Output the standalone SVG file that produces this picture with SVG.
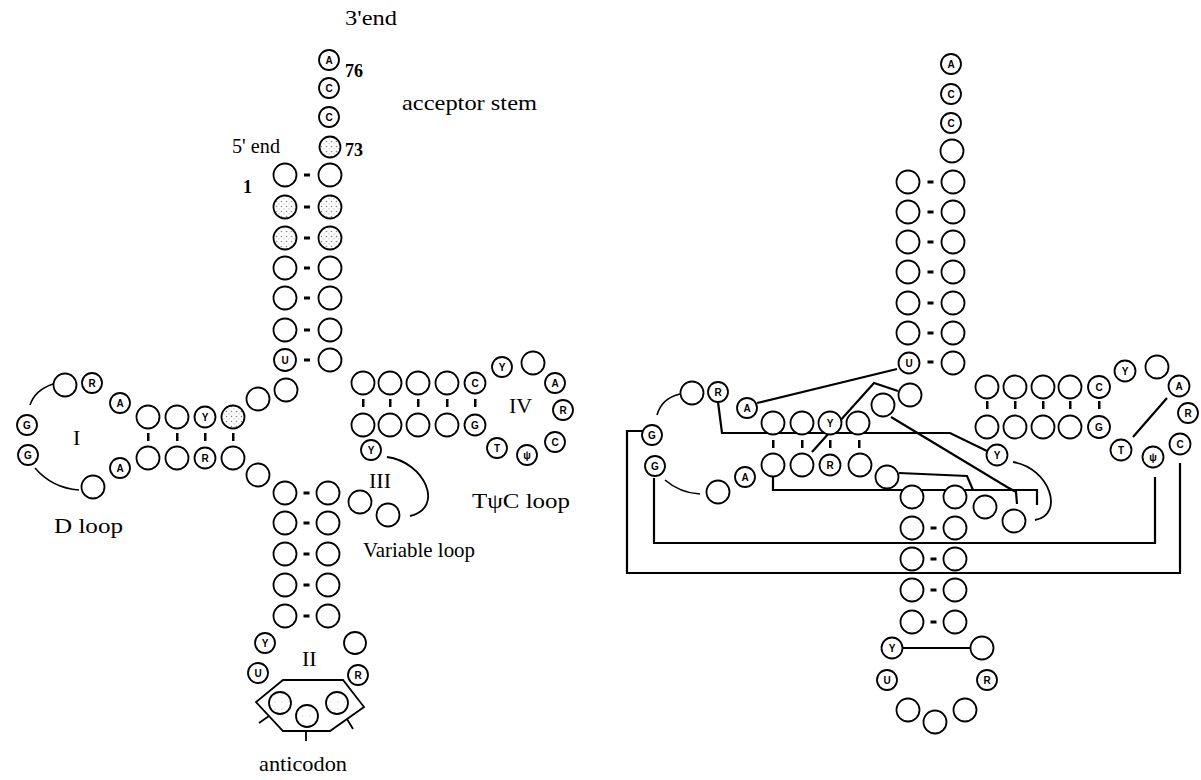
<svg xmlns="http://www.w3.org/2000/svg" width="1201" height="780" viewBox="0 0 1201 780">
<defs>
<pattern id="stip" width="5" height="5" patternUnits="userSpaceOnUse"><rect width="5" height="5" fill="#fff"/><circle cx="1.5" cy="1.5" r="0.8" fill="#888"/><circle cx="4" cy="3.8" r="0.6" fill="#aaa"/></pattern>
<pattern id="stip2" width="7" height="7" patternUnits="userSpaceOnUse"><rect width="7" height="7" fill="#fff"/><circle cx="2" cy="2" r="0.6" fill="#bbb"/></pattern>
</defs>
<style>
.c{fill:#fff;stroke:#000;stroke-width:1.8}
.s{fill:url(#stip);stroke:#000;stroke-width:1.8}
.s2{fill:url(#stip2);stroke:#000;stroke-width:1.8}
.l{font-family:"Liberation Sans",Arial,sans-serif;font-weight:bold;font-size:10px;text-anchor:middle}
.t{font-family:"Liberation Serif","Times New Roman",serif;font-size:21px}
.n{font-family:"Liberation Serif","Times New Roman",serif;font-size:18px;font-weight:bold}
.ln{fill:none;stroke:#000;stroke-width:2.2}
.pm{fill:#000}
</style>
<rect width="1201" height="780" fill="#fff"/>

<g id="labels">
<text class="t" x="345" y="25" textLength="52" lengthAdjust="spacingAndGlyphs">3'end</text>
<text class="n" x="345" y="77">76</text>
<text class="n" x="345" y="156">73</text>
<text class="t" x="402" y="110" textLength="135" lengthAdjust="spacingAndGlyphs">acceptor  stem</text>
<text class="t" x="232" y="153" textLength="48" lengthAdjust="spacingAndGlyphs">5' end</text>
<text class="n" x="243" y="193">1</text>
<text class="t" x="73" y="445" style="font-size:22px">I</text>
<text class="t" x="302" y="666" style="font-size:22px">II</text>
<text class="t" x="369" y="488" style="font-size:22px">III</text>
<text class="t" x="509" y="413" style="font-size:22px">IV</text>
<text class="t" x="54" y="533" textLength="69" lengthAdjust="spacingAndGlyphs">D loop</text>
<text class="t" x="472" y="508" textLength="98" lengthAdjust="spacingAndGlyphs">TψC loop</text>
<text class="t" x="363" y="557" textLength="112" lengthAdjust="spacingAndGlyphs">Variable loop</text>
<text class="t" x="259" y="771" textLength="88" lengthAdjust="spacingAndGlyphs">anticodon</text>
</g>

<g id="connectors">
<rect class="pm" x="304" y="173.5" width="6" height="3"/>
<rect class="pm" x="304" y="205.5" width="6" height="3"/>
<rect class="pm" x="304" y="236.5" width="6" height="3"/>
<rect class="pm" x="304" y="266.5" width="6" height="3"/>
<rect class="pm" x="304" y="296.5" width="6" height="3"/>
<rect class="pm" x="304" y="328.5" width="6" height="3"/>
<rect class="pm" x="304" y="358.5" width="6" height="3"/>
<rect class="pm" x="303.5" y="491.5" width="6" height="3"/>
<rect class="pm" x="303.5" y="521.5" width="6" height="3"/>
<rect class="pm" x="303.5" y="552.5" width="6" height="3"/>
<rect class="pm" x="303.5" y="583.5" width="6" height="3"/>
<rect class="pm" x="303.5" y="614.5" width="6" height="3"/>
<rect class="pm" x="147" y="433" width="2.5" height="8"/>
<rect class="pm" x="176" y="433" width="2.5" height="8"/>
<rect class="pm" x="204" y="433" width="2.5" height="8"/>
<rect class="pm" x="232" y="433" width="2.5" height="8"/>
<rect class="pm" x="362" y="399" width="2.5" height="8"/>
<rect class="pm" x="389" y="399" width="2.5" height="8"/>
<rect class="pm" x="417" y="399" width="2.5" height="8"/>
<rect class="pm" x="446" y="399" width="2.5" height="8"/>
<rect class="pm" x="474" y="399" width="2.5" height="8"/>
<path class="ln" d="M30 405 Q35 390 53 384" style="stroke-width:1.6"/>
<path class="ln" d="M35 468 Q52 488 79 490" style="stroke-width:1.6"/>
<path class="ln" d="M387 457 C425 462 445 508 410 516" style="stroke-width:1.8"/>
<polygon class="ln" points="283,680 343,680 364,707 330,731 283,731 256,702" style="stroke-width:1.8"/>
<path class="ln" d="M269 716 L259 723 M306 731 L306 741 M347 719 L353 729" style="stroke-width:1.8"/>

<rect class="pm" x="927.5" y="180.5" width="6" height="3"/>
<rect class="pm" x="927.5" y="210.5" width="6" height="3"/>
<rect class="pm" x="927.5" y="240.5" width="6" height="3"/>
<rect class="pm" x="927.5" y="270.5" width="6" height="3"/>
<rect class="pm" x="927.5" y="301.5" width="6" height="3"/>
<rect class="pm" x="927.5" y="331.5" width="6" height="3"/>
<rect class="pm" x="927.5" y="360.5" width="6" height="3"/>
<rect class="pm" x="930.5" y="526.5" width="6" height="3"/>
<rect class="pm" x="930.5" y="557.5" width="6" height="3"/>
<rect class="pm" x="930.5" y="588.5" width="6" height="3"/>
<rect class="pm" x="930.5" y="620.5" width="6" height="3"/>
<rect class="pm" x="772" y="440" width="2.5" height="8"/>
<rect class="pm" x="801" y="440" width="2.5" height="8"/>
<rect class="pm" x="829" y="440" width="2.5" height="8"/>
<rect class="pm" x="858" y="440" width="2.5" height="8"/>
<rect class="pm" x="986" y="401" width="2.5" height="8"/>
<rect class="pm" x="1014" y="401" width="2.5" height="8"/>
<rect class="pm" x="1042" y="401" width="2.5" height="8"/>
<rect class="pm" x="1069" y="401" width="2.5" height="8"/>
<rect class="pm" x="1098" y="401" width="2.5" height="8"/>
<path class="ln" d="M657 415 Q662 398 680 394" style="stroke-width:1.6"/>
<path class="ln" d="M665 480 Q680 493 700 494" style="stroke-width:1.6"/>
<path class="ln" d="M1013 462 C1050 468 1065 515 1035 520" style="stroke-width:1.8"/>
<path class="ln" d="M757 403 L897 369"/>
<path class="ln" d="M898 391 L874 383 L812 452"/>
<path class="ln" d="M718 402 L722 433 L950 433 L987 451"/>
<path class="ln" d="M891 417 L1007 487 L1016 492 L1017 504"/>
<path class="ln" d="M642 431 L627 431 L627 573 L1180 573 L1180 463"/>
<path class="ln" d="M654 478 L654 543 L1155 543 L1155 477"/>
<path class="ln" d="M773 477 L773 490 L1037 490 L1037 505"/>
<path class="ln" d="M899 473 L967 476 L973 490"/>
<path class="ln" d="M903 648 L970 648"/>
<path class="ln" d="M1133 437 L1167 398"/>
</g>

<g id="left-nodes">
<g id="L76"><circle class="c" cx="329" cy="60" r="10"/><text class="l" x="329" y="63.5">A</text></g>
<g id="L75"><circle class="c" cx="329" cy="88" r="10"/><text class="l" x="329" y="91.5">C</text></g>
<g id="L74"><circle class="c" cx="329" cy="117" r="10"/><text class="l" x="329" y="120.5">C</text></g>
<g id="L73"><circle class="s" cx="330" cy="147" r="10.5"/></g>
<g id="L1"><circle class="c" cx="285" cy="175" r="11.5"/></g>
<g id="L72"><circle class="c" cx="330" cy="175" r="11.5"/></g>
<g id="L2"><circle class="s" cx="285" cy="207" r="11.5"/></g>
<g id="L71"><circle class="s" cx="330" cy="207" r="11.5"/></g>
<g id="L3"><circle class="s" cx="285" cy="238" r="11.5"/></g>
<g id="L70"><circle class="s" cx="330" cy="238" r="11.5"/></g>
<g id="L4"><circle class="c" cx="285" cy="268" r="11.5"/></g>
<g id="L69"><circle class="c" cx="330" cy="268" r="11.5"/></g>
<g id="L5"><circle class="c" cx="285" cy="298" r="11.5"/></g>
<g id="L68"><circle class="c" cx="330" cy="298" r="11.5"/></g>
<g id="L6"><circle class="c" cx="285" cy="330" r="11.5"/></g>
<g id="L67"><circle class="c" cx="330" cy="330" r="11.5"/></g>
<g id="L7"><circle class="c" cx="285" cy="360" r="11"/><text class="l" x="285" y="363.5">U</text></g>
<g id="L66"><circle class="c" cx="330" cy="360" r="11.5"/></g>
<g id="L8"><circle class="c" cx="286" cy="390" r="11.5"/></g>
<g id="L9"><circle class="c" cx="258" cy="399" r="11.5"/></g>
<g id="L10"><circle class="s" cx="233" cy="417" r="11.5"/></g>
<g id="L11"><circle class="c" cx="205" cy="417" r="10.5"/><text class="l" x="205" y="420.5">Y</text></g>
<g id="L12"><circle class="c" cx="177" cy="417" r="11.5"/></g>
<g id="L13"><circle class="c" cx="148" cy="417" r="11.5"/></g>
<g id="L14"><circle class="c" cx="120" cy="403" r="10"/><text class="l" x="120" y="406.5">A</text></g>
<g id="L15"><circle class="c" cx="92" cy="383" r="10"/><text class="l" x="92" y="386.5">R</text></g>
<g id="L16"><circle class="c" cx="65" cy="385" r="11.5"/></g>
<g id="L18"><circle class="c" cx="27" cy="425" r="10"/><text class="l" x="27" y="428.5">G</text></g>
<g id="L19"><circle class="c" cx="28" cy="455" r="10"/><text class="l" x="28" y="458.5">G</text></g>
<g id="L20"><circle class="c" cx="93" cy="487" r="11.5"/></g>
<g id="L21"><circle class="c" cx="120" cy="468" r="10"/><text class="l" x="120" y="471.5">A</text></g>
<g id="L22"><circle class="c" cx="148" cy="458" r="11.5"/></g>
<g id="L23"><circle class="c" cx="177" cy="458" r="11.5"/></g>
<g id="L24"><circle class="c" cx="205" cy="458" r="10.5"/><text class="l" x="205" y="461.5">R</text></g>
<g id="L25"><circle class="c" cx="233" cy="458" r="11.5"/></g>
<g id="L26"><circle class="c" cx="258" cy="475" r="11.5"/></g>
<g id="L27"><circle class="c" cx="285" cy="493" r="11.5"/></g>
<g id="L28"><circle class="c" cx="285" cy="523" r="11.5"/></g>
<g id="L29"><circle class="c" cx="285" cy="554" r="11.5"/></g>
<g id="L30"><circle class="c" cx="285" cy="585" r="11.5"/></g>
<g id="L31"><circle class="c" cx="285" cy="616" r="11.5"/></g>
<g id="L32"><circle class="c" cx="265" cy="643" r="10"/><text class="l" x="265" y="646.5">Y</text></g>
<g id="L33"><circle class="c" cx="258" cy="673" r="10"/><text class="l" x="258" y="676.5">U</text></g>
<g id="L34"><circle class="s2" cx="280" cy="703" r="11"/></g>
<g id="L35"><circle class="s2" cx="307" cy="716" r="11"/></g>
<g id="L36"><circle class="s2" cx="337" cy="703" r="11"/></g>
<g id="L37"><circle class="c" cx="358" cy="675" r="10"/><text class="l" x="358" y="678.5">R</text></g>
<g id="L38"><circle class="c" cx="355" cy="643" r="11"/></g>
<g id="L39"><circle class="c" cx="328" cy="616" r="11.5"/></g>
<g id="L40"><circle class="c" cx="328" cy="585" r="11.5"/></g>
<g id="L41"><circle class="c" cx="328" cy="554" r="11.5"/></g>
<g id="L42"><circle class="c" cx="328" cy="523" r="11.5"/></g>
<g id="L43"><circle class="c" cx="328" cy="493" r="11.5"/></g>
<g id="L44"><circle class="c" cx="360" cy="502" r="11.5"/></g>
<g id="L45"><circle class="c" cx="388" cy="515" r="11.5"/></g>
<g id="L48"><circle class="c" cx="371" cy="450" r="10"/><text class="l" x="371" y="453.5">Y</text></g>
<g id="L49"><circle class="c" cx="363" cy="425" r="11.5"/></g>
<g id="L50"><circle class="c" cx="390" cy="425" r="11.5"/></g>
<g id="L51"><circle class="c" cx="418" cy="425" r="11.5"/></g>
<g id="L52"><circle class="c" cx="447" cy="425" r="11.5"/></g>
<g id="L53"><circle class="c" cx="475" cy="425" r="10.5"/><text class="l" x="475" y="428.5">G</text></g>
<g id="L54"><circle class="c" cx="497" cy="448" r="10"/><text class="l" x="497" y="451.5">T</text></g>
<g id="L55"><circle class="c" cx="527" cy="455" r="10"/><text class="l" x="527" y="458.5">ψ</text></g>
<g id="L56"><circle class="c" cx="555" cy="442" r="10"/><text class="l" x="555" y="445.5">C</text></g>
<g id="L57"><circle class="c" cx="563" cy="410" r="10"/><text class="l" x="563" y="413.5">R</text></g>
<g id="L58"><circle class="c" cx="555" cy="383" r="10"/><text class="l" x="555" y="386.5">A</text></g>
<g id="L59"><circle class="c" cx="533" cy="363" r="11.5"/></g>
<g id="L60"><circle class="c" cx="502" cy="367" r="10"/><text class="l" x="502" y="370.5">Y</text></g>
<g id="L61"><circle class="c" cx="475" cy="383" r="10.5"/><text class="l" x="475" y="386.5">C</text></g>
<g id="L62"><circle class="c" cx="447" cy="383" r="11.5"/></g>
<g id="L63"><circle class="c" cx="418" cy="383" r="11.5"/></g>
<g id="L64"><circle class="c" cx="390" cy="383" r="11.5"/></g>
<g id="L65"><circle class="c" cx="363" cy="383" r="11.5"/></g>
</g>

<g id="right-nodes">
<g id="R76"><circle class="c" cx="951" cy="64" r="10"/><text class="l" x="951" y="67.5">A</text></g>
<g id="R75"><circle class="c" cx="951" cy="94" r="10"/><text class="l" x="951" y="97.5">C</text></g>
<g id="R74"><circle class="c" cx="951" cy="123" r="10"/><text class="l" x="951" y="126.5">C</text></g>
<g id="R73"><circle class="c" cx="952" cy="151" r="11.5"/></g>
<g id="R1"><circle class="c" cx="908" cy="182" r="11.5"/></g>
<g id="R72"><circle class="c" cx="953" cy="182" r="11.5"/></g>
<g id="R2"><circle class="c" cx="908" cy="212" r="11.5"/></g>
<g id="R71"><circle class="c" cx="953" cy="212" r="11.5"/></g>
<g id="R3"><circle class="c" cx="908" cy="242" r="11.5"/></g>
<g id="R70"><circle class="c" cx="953" cy="242" r="11.5"/></g>
<g id="R4"><circle class="c" cx="908" cy="272" r="11.5"/></g>
<g id="R69"><circle class="c" cx="953" cy="272" r="11.5"/></g>
<g id="R5"><circle class="c" cx="908" cy="303" r="11.5"/></g>
<g id="R68"><circle class="c" cx="953" cy="303" r="11.5"/></g>
<g id="R6"><circle class="c" cx="908" cy="333" r="11.5"/></g>
<g id="R67"><circle class="c" cx="953" cy="333" r="11.5"/></g>
<g id="R7"><circle class="c" cx="909" cy="363" r="10.5"/><text class="l" x="909" y="366.5">U</text></g>
<g id="R66"><circle class="c" cx="953" cy="363" r="11.5"/></g>
<g id="R8"><circle class="c" cx="910" cy="395" r="11.5"/></g>
<g id="R9"><circle class="c" cx="883" cy="405" r="11.5"/></g>
<g id="R10"><circle class="c" cx="858" cy="423" r="11.5"/></g>
<g id="R11"><circle class="c" cx="830" cy="423" r="11.5"/><text class="l" x="830" y="426.5">Y</text></g>
<g id="R12"><circle class="c" cx="802" cy="423" r="11.5"/></g>
<g id="R13"><circle class="c" cx="773" cy="423" r="11.5"/></g>
<g id="R14"><circle class="c" cx="747" cy="408" r="10"/><text class="l" x="747" y="411.5">A</text></g>
<g id="R15"><circle class="c" cx="718" cy="392" r="10"/><text class="l" x="718" y="395.5">R</text></g>
<g id="R16"><circle class="c" cx="692" cy="393" r="11.5"/></g>
<g id="R18"><circle class="c" cx="652" cy="435" r="10"/><text class="l" x="652" y="438.5">G</text></g>
<g id="R19"><circle class="c" cx="655" cy="466" r="10"/><text class="l" x="655" y="469.5">G</text></g>
<g id="R20"><circle class="c" cx="718" cy="492" r="11.5"/></g>
<g id="R21"><circle class="c" cx="745" cy="477" r="10"/><text class="l" x="745" y="480.5">A</text></g>
<g id="R22"><circle class="c" cx="773" cy="465" r="11.5"/></g>
<g id="R23"><circle class="c" cx="802" cy="465" r="11.5"/></g>
<g id="R24"><circle class="c" cx="830" cy="465" r="10.5"/><text class="l" x="830" y="468.5">R</text></g>
<g id="R25"><circle class="c" cx="860" cy="465" r="11.5"/></g>
<g id="R26"><circle class="c" cx="887" cy="477" r="11.5"/></g>
<g id="R27"><circle class="c" cx="912" cy="497" r="11.5"/></g>
<g id="R28"><circle class="c" cx="912" cy="528" r="11.5"/></g>
<g id="R29"><circle class="c" cx="912" cy="559" r="11.5"/></g>
<g id="R30"><circle class="c" cx="912" cy="590" r="11.5"/></g>
<g id="R31"><circle class="c" cx="912" cy="622" r="11.5"/></g>
<g id="R32"><circle class="c" cx="892" cy="648" r="10.5"/><text class="l" x="892" y="651.5">Y</text></g>
<g id="R33"><circle class="c" cx="887" cy="680" r="10"/><text class="l" x="887" y="683.5">U</text></g>
<g id="R34"><circle class="c" cx="908" cy="710" r="11.5"/></g>
<g id="R35"><circle class="c" cx="935" cy="722" r="11.5"/></g>
<g id="R36"><circle class="c" cx="965" cy="710" r="11.5"/></g>
<g id="R37"><circle class="c" cx="987" cy="680" r="10"/><text class="l" x="987" y="683.5">R</text></g>
<g id="R38"><circle class="c" cx="982" cy="648" r="11.5"/></g>
<g id="R39"><circle class="c" cx="955" cy="622" r="11.5"/></g>
<g id="R40"><circle class="c" cx="955" cy="590" r="11.5"/></g>
<g id="R41"><circle class="c" cx="955" cy="559" r="11.5"/></g>
<g id="R42"><circle class="c" cx="955" cy="528" r="11.5"/></g>
<g id="R43"><circle class="c" cx="955" cy="497" r="11.5"/></g>
<g id="R44"><circle class="c" cx="985" cy="507" r="11.5"/></g>
<g id="R45"><circle class="c" cx="1014" cy="521" r="11.5"/></g>
<g id="R48"><circle class="c" cx="997" cy="455" r="10.5"/><text class="l" x="997" y="458.5">Y</text></g>
<g id="R49"><circle class="c" cx="987" cy="427" r="11.5"/></g>
<g id="R50"><circle class="c" cx="1015" cy="427" r="11.5"/></g>
<g id="R51"><circle class="c" cx="1043" cy="427" r="11.5"/></g>
<g id="R52"><circle class="c" cx="1070" cy="427" r="11.5"/></g>
<g id="R53"><circle class="c" cx="1099" cy="427" r="11"/><text class="l" x="1099" y="430.5">G</text></g>
<g id="R54"><circle class="c" cx="1121" cy="450" r="10.5"/><text class="l" x="1121" y="453.5">T</text></g>
<g id="R55"><circle class="c" cx="1153" cy="457" r="10.5"/><text class="l" x="1153" y="460.5">ψ</text></g>
<g id="R56"><circle class="c" cx="1180" cy="444" r="10.5"/><text class="l" x="1180" y="447.5">C</text></g>
<g id="R57"><circle class="c" cx="1188" cy="413" r="10"/><text class="l" x="1188" y="416.5">R</text></g>
<g id="R58"><circle class="c" cx="1179" cy="386" r="10.5"/><text class="l" x="1179" y="389.5">A</text></g>
<g id="R59"><circle class="c" cx="1157" cy="367" r="11.5"/></g>
<g id="R60"><circle class="c" cx="1125" cy="371" r="10.5"/><text class="l" x="1125" y="374.5">Y</text></g>
<g id="R61"><circle class="c" cx="1099" cy="387" r="11"/><text class="l" x="1099" y="390.5">C</text></g>
<g id="R62"><circle class="c" cx="1070" cy="387" r="11.5"/></g>
<g id="R63"><circle class="c" cx="1043" cy="387" r="11.5"/></g>
<g id="R64"><circle class="c" cx="1015" cy="387" r="11.5"/></g>
<g id="R65"><circle class="c" cx="987" cy="387" r="11.5"/></g>
</g>
</svg>
